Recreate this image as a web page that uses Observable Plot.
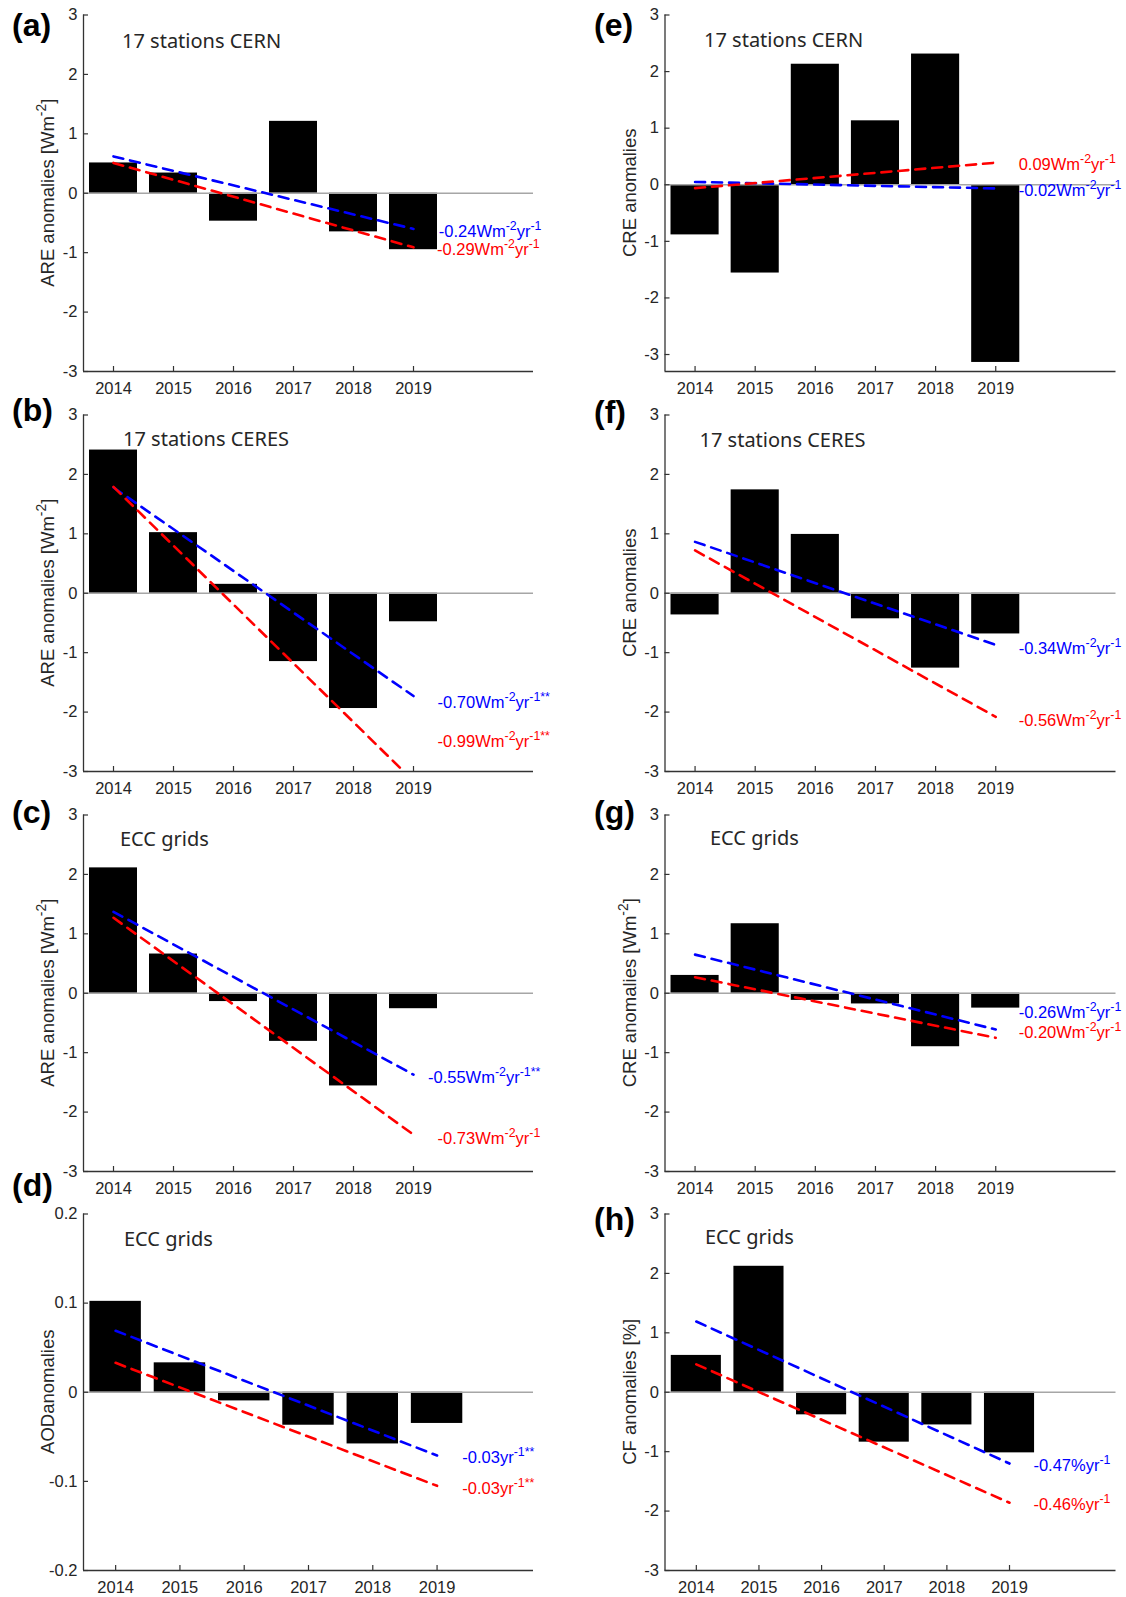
<!DOCTYPE html>
<html>
<head>
<meta charset="utf-8">
<script src="https://cdn.jsdelivr.net/npm/d3@7"></script>
<script src="https://cdn.jsdelivr.net/npm/@observablehq/plot@0.6"></script>
<style>
  body { margin: 0; background: #fff; }
  #fig { position: relative; width: 1126px; height: 1597px; overflow: hidden; background: #fff; }
  #fig .panel { position: absolute; }
  #letters { position: absolute; left: 0; top: 0; pointer-events: none; }
</style>
</head>
<body>
<div id="fig"></div>
<script>
// ---------------- data ----------------
const years = [2014, 2015, 2016, 2017, 2018, 2019];
const trendYears = [2014, 2019];

// bar values
const areCERN  = [0.51, 0.34, -0.47, 1.21, -0.65, -0.95];
const areCERES = [2.41, 1.02, 0.15, -1.15, -1.94, -0.48];
const areECC   = [2.11, 0.66, -0.14, -0.81, -1.56, -0.26];
const aodECC   = [0.102, 0.033, -0.0097, -0.037, -0.058, -0.035];
const creCERN  = [-0.886, -1.56, 2.13, 1.13, 2.31, -3.14];
const creCERES = [-0.365, 1.74, 0.99, -0.43, -1.26, -0.685];
const creECC   = [0.30, 1.17, -0.12, -0.18, -0.90, -0.25];
const cfECC    = [0.62, 2.12, -0.38, -0.84, -0.55, -1.02];

// trend lines: value at 2014 and at 2019 (blue, red)
const blueTrends = {a: [0.62, -0.60], b: [1.78, -1.73], c: [1.37, -1.37], d: [0.069, -0.071],
                    e: [0.05, -0.065], f: [0.865, -0.87], g: [0.65, -0.61], h: [1.19, -1.20]};
const redTrends  = {a: [0.51, -0.91], b: [1.79, -3.16], c: [1.27, -2.38], d: [0.033, -0.105],
                    e: [-0.06, 0.39], f: [0.72, -2.08], g: [0.27, -0.75], h: [0.47, -1.86]};

// trend label texts
const blueLabels = {a: "-0.24Wm^{-2}yr^{-1}", b: "-0.70Wm^{-2}yr^{-1**}", c: "-0.55Wm^{-2}yr^{-1**}", d: "-0.03yr^{-1**}",
                    e: "-0.02Wm^{-2}yr^{-1}", f: "-0.34Wm^{-2}yr^{-1}", g: "-0.26Wm^{-2}yr^{-1}", h: "-0.47%yr^{-1}"};
const redLabels  = {a: "-0.29Wm^{-2}yr^{-1}", b: "-0.99Wm^{-2}yr^{-1**}", c: "-0.73Wm^{-2}yr^{-1}", d: "-0.03yr^{-1**}",
                    e: "0.09Wm^{-2}yr^{-1}", f: "-0.56Wm^{-2}yr^{-1}", g: "-0.20Wm^{-2}yr^{-1}", h: "-0.46%yr^{-1}"};

const titles = {a: "17 stations CERN", b: "17 stations CERES", c: "ECC grids", d: "ECC grids",
                e: "17 stations CERN", f: "17 stations CERES", g: "ECC grids", h: "ECC grids"};
const yLabels = {a: "ARE anomalies [Wm^{-2}]", b: "ARE anomalies [Wm^{-2}]", c: "ARE anomalies [Wm^{-2}]", d: "AODanomalies",
                 e: "CRE anomalies", f: "CRE anomalies", g: "CRE anomalies [Wm^{-2}]", h: "CF anomalies [%]"};

const yTicks3 = [-3, -2, -1, 0, 1, 2, 3];
const yTicksAOD = [-0.2, -0.1, 0, 0.1, 0.2];

// ---------------- layout ----------------
const FONT = "'Liberation Sans', Arial, Helvetica, sans-serif";
const AX = "#333333";
const BLUE = "#0000ff", RED = "#ff0000";
const LFS = 16.5;  // trend label font size
const TFS = 16.5;  // tick label font size
const YFS = 18.5;  // y label font size
const cols = [
  {left: 0,   ml: 83,    mr: 30},
  {left: 563, ml: 101.5, mr: 10.5}
];
const rowTops = [0, 400, 800, 1199];
const W = 563, H = 400, MT = 14.5, MB = 29;

const panels = [
  {id: "a", col: 0, row: 0, values: areCERN,  xDomain: [2013.5, 2021], yDomain: [-3, 3], yTicks: yTicks3, titleDx: 38.5, titleDy: 32.5,
   blueAt: [2019.43, -0.64], redAt: [2019.40, -0.95], letterY: 35},
  {id: "b", col: 0, row: 1, values: areCERES, xDomain: [2013.5, 2021], yDomain: [-3, 3], yTicks: yTicks3, titleDx: 39.5, titleDy: 30.5,
   blueAt: [2019.41, -1.84], redAt: [2019.41, -2.49], letterY: 420},
  {id: "c", col: 0, row: 2, values: areECC,   xDomain: [2013.5, 2021], yDomain: [-3, 3], yTicks: yTicks3, titleDx: 36.5, titleDy: 30.5,
   blueAt: [2019.25, -1.42], redAt: [2019.41, -2.44], letterY: 822},
  {id: "d", col: 0, row: 3, values: aodECC,   xDomain: [2013.5, 2020.5], yDomain: [-0.2, 0.2], yTicks: yTicksAOD, titleDx: 40.5, titleDy: 31.5,
   blueAt: [2019.40, -0.0735], redAt: [2019.40, -0.108], letterY: 1195},
  {id: "e", col: 1, row: 0, values: creCERN,  xDomain: [2013.5, 2021], yDomain: [-3.3, 3], yTicks: yTicks3, titleDx: 39, titleDy: 32.2,
   blueAt: [2019.39, -0.11], redAt: [2019.39, 0.36], letterY: 35},
  {id: "f", col: 1, row: 1, values: creCERES, xDomain: [2013.5, 2021], yDomain: [-3, 3], yTicks: yTicks3, titleDx: 34.5, titleDy: 31.5,
   blueAt: [2019.39, -0.93], redAt: [2019.39, -2.14], letterY: 422},
  {id: "g", col: 1, row: 2, values: creECC,   xDomain: [2013.5, 2021], yDomain: [-3, 3], yTicks: yTicks3, titleDx: 45, titleDy: 29.5,
   blueAt: [2019.39, -0.33], redAt: [2019.39, -0.66], letterY: 822},
  {id: "h", col: 1, row: 3, values: cfECC,    xDomain: [2013.5, 2020.7], yDomain: [-3, 3], yTicks: yTicks3, titleDx: 40, titleDy: 29.8,
   blueAt: [2019.39, -1.24], redAt: [2019.39, -1.89], letterY: 1229}
];

// rich text: "^{...}" becomes a superscript
function addRich(sel, str, fs) {
  const parts = str.split(/\^\{([^}]*)\}/);
  const shift = 0.42 * fs;
  let up = false;
  parts.forEach((s, i) => {
    if (!s) return;
    const isSup = i % 2 === 1;
    const ts = sel.append("tspan").text(s);
    if (isSup) {
      ts.attr("font-size", 0.75 * fs).attr("dy", up ? 0 : -shift);
      up = true;
    } else {
      ts.attr("dy", up ? shift : 0);
      up = false;
    }
  });
}

const fig = document.getElementById("fig");

for (const p of panels) {
  const col = cols[p.col];
  const plotH = H - MT - MB;
  const plotW = W - col.ml - col.mr;
  const rows = years.map((year, i) => ({year, value: p.values[i]}));
  const mkTrend = (vals) => trendYears.map((year, i) => ({year, value: vals[i]}));

  const plot = Plot.plot({
    width: W, height: H,
    marginTop: MT, marginBottom: MB, marginLeft: col.ml, marginRight: col.mr,
    style: {fontFamily: FONT, fontSize: TFS + "px", color: "#262626", background: "transparent", overflow: "visible"},
    x: {type: "linear", domain: p.xDomain},
    y: {type: "linear", domain: p.yDomain},
    marks: [
      Plot.rect(rows, {x1: d => d.year - 0.4, x2: d => d.year + 0.4, y1: () => 0, y2: d => d.value, fill: "#000"}),
      Plot.ruleY([0], {stroke: "#a6a6a6", strokeWidth: 1.5}),
      Plot.line(mkTrend(blueTrends[p.id]), {x: "year", y: "value", stroke: BLUE, strokeWidth: 2.6, strokeDasharray: "10,7", clip: true}),
      Plot.line(mkTrend(redTrends[p.id]), {x: "year", y: "value", stroke: RED, strokeWidth: 2.6, strokeDasharray: "10,7", clip: true}),
      Plot.ruleX([p.xDomain[0]], {stroke: AX, strokeWidth: 1.3}),
      Plot.ruleY([p.yDomain[0]], {stroke: AX, strokeWidth: 1.3}),
      Plot.tickX(years, {x: d => d, stroke: AX, strokeWidth: 1.2, insetTop: plotH - 5}),
      Plot.tickY(p.yTicks, {y: d => d, stroke: AX, strokeWidth: 1.2, insetRight: plotW - 5}),
      Plot.axisX({ticks: years, tickSize: 0, tickPadding: 11, tickFormat: d => String(d), fontSize: TFS, label: null}),
      Plot.axisY({ticks: p.yTicks, tickSize: 0, tickPadding: 6, tickFormat: d => String(d), fontSize: TFS, label: null}),
      Plot.text([titles[p.id]], {text: d => d, frameAnchor: "top-left", dx: p.titleDx, dy: p.titleDy,
        textAnchor: "start", lineAnchor: "bottom", fontSize: 20, fontFamily: "'Noto Sans', sans-serif", fill: "#262626"})
    ]
  });

  const svg = d3.select(plot);
  const sx = plot.scale("x"), sy = plot.scale("y");

  // y-axis label
  const yl = svg.append("text")
    .attr("transform", `translate(${col.ml - 29},${MT + plotH / 2}) rotate(-90)`)
    .attr("text-anchor", "middle")
    .attr("font-size", YFS)
    .attr("font-family", FONT)
    .attr("fill", "#262626");
  addRich(yl, yLabels[p.id], YFS);

  // trend labels
  const lab = [
    {text: blueLabels[p.id], at: p.blueAt, color: BLUE},
    {text: redLabels[p.id], at: p.redAt, color: RED}
  ];
  for (const l of lab) {
    const t = svg.append("text")
      .attr("x", sx.apply(l.at[0]))
      .attr("y", sy.apply(l.at[1]) + 0.36 * LFS)
      .attr("text-anchor", "start")
      .attr("font-size", LFS)
      .attr("font-family", FONT)
      .attr("fill", l.color);
    addRich(t, l.text, LFS);
  }

  const holder = document.createElement("div");
  holder.className = "panel";
  holder.style.left = col.left + "px";
  holder.style.top = rowTops[p.row] + "px";
  holder.appendChild(plot);
  fig.appendChild(holder);
}

// panel letters
const letters = d3.create("svg").attr("id", "letters").attr("width", 1126).attr("height", 1597);
for (const p of panels) {
  letters.append("text")
    .attr("x", p.col === 0 ? 12 : 594)
    .attr("y", p.letterY + 1)
    .attr("font-family", FONT)
    .attr("font-weight", "bold")
    .attr("font-size", 32)
    .attr("fill", "#000")
    .text(`(${p.id})`);
}
fig.appendChild(letters.node());
</script>
</body>
</html>
